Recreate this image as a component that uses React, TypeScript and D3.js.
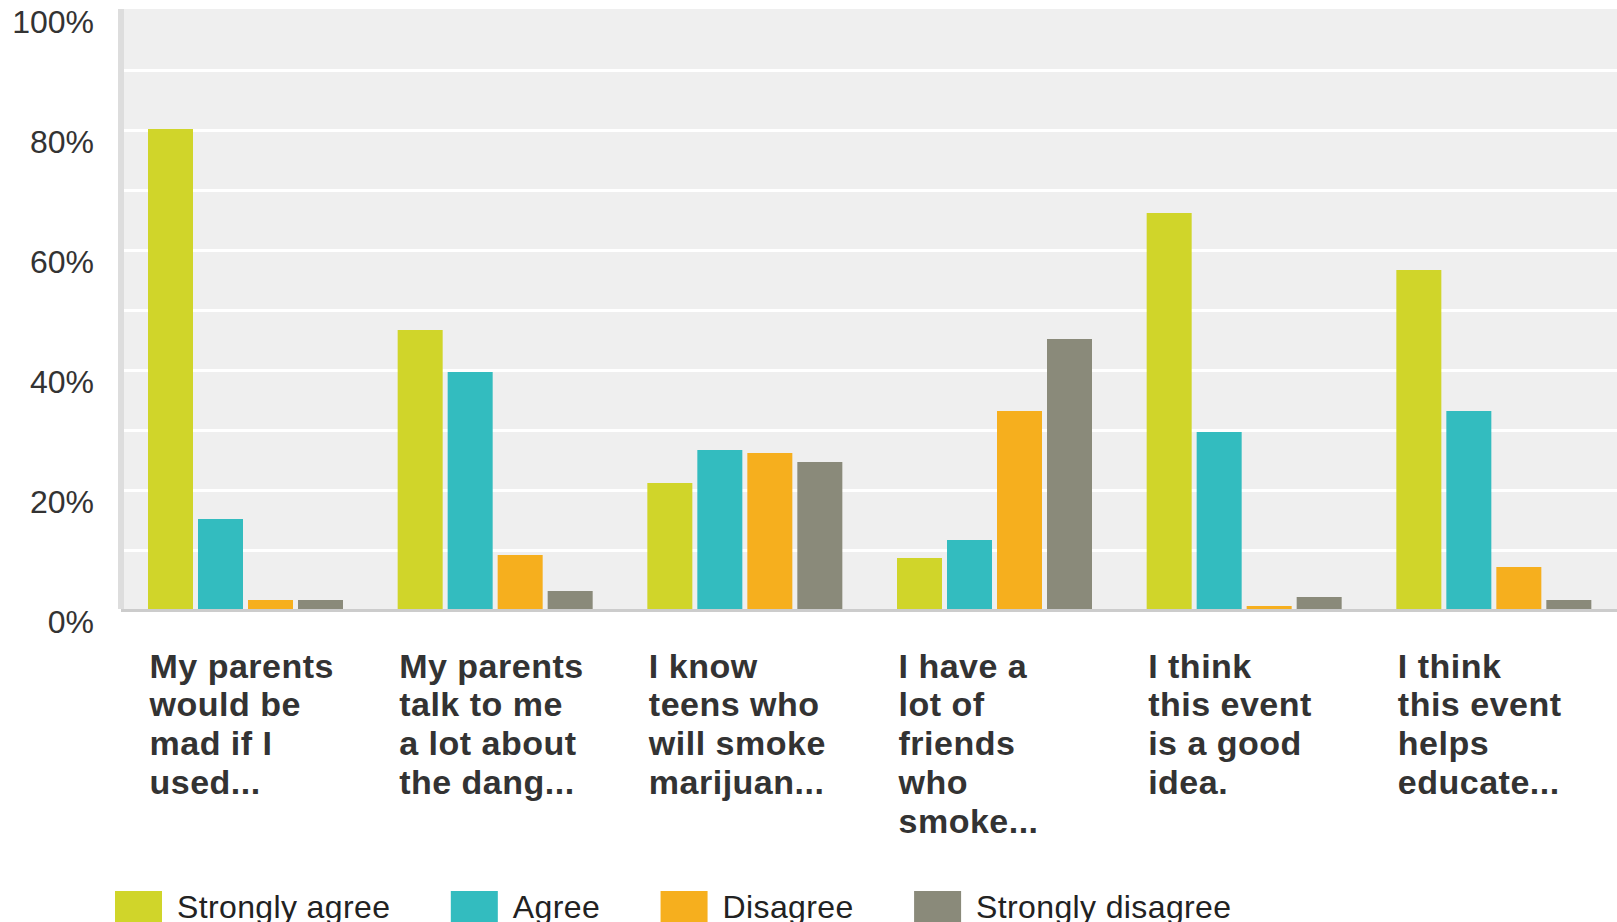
import React, { useEffect, useRef } from "react";
import * as d3 from "d3";

const categoryLines: string[][] = [
  ["My parents", "would be", "mad if I", "used..."],
  ["My parents", "talk to me", "a lot about", "the dang..."],
  ["I know", "teens who", "will smoke", "marijuan..."],
  ["I have a", "lot of", "friends", "who", "smoke..."],
  ["I think", "this event", "is a good", "idea."],
  ["I think", "this event", "helps", "educate..."],
];
const seriesNames = ["Strongly agree", "Agree", "Disagree", "Strongly disagree"];
const stronglyAgree = [80, 46.5, 21, 8.5, 66, 56.5];
const agree = [15, 39.5, 26.5, 11.5, 29.5, 33];
const disagree = [1.5, 9, 26, 33, 0.5, 7];
const stronglyDisagree = [1.5, 3, 24.5, 45, 2, 1.5];
const seriesValues = [stronglyAgree, agree, disagree, stronglyDisagree];
const seriesColors = ["#D0D52A", "#33BCBF", "#F6AF1E", "#8A8A7A"];
const yTicks = [0, 20, 40, 60, 80, 100];
const yGrid = [10, 20, 30, 40, 50, 60, 70, 80, 90];

const W = 1617;
const H = 922;

export default function App() {
  const ref = useRef<SVGSVGElement | null>(null);

  useEffect(() => {
    document.body.style.margin = "0";
    document.body.style.overflow = "hidden";
    const svg = d3.select(ref.current);
    svg.selectAll("*").remove();

    const font = "'Liberation Sans', Arial, sans-serif";
    const plotLeft = 124;
    const plotTop = 9;
    const plotBottom = 609;

    const y = d3.scaleLinear().domain([0, 100]).range([plotBottom, plotTop]);
    const cats = categoryLines.map((l) => l.join(" "));
    const x0 = d3.scaleBand<string>().domain(cats).range([123, 1621]).padding(0);
    const x1 = d3.scaleBand<string>().domain(seriesNames).range([25, 220]).paddingInner(0.1).paddingOuter(0);

    // background
    svg.append("rect").attr("x", plotLeft).attr("y", plotTop).attr("width", W - plotLeft).attr("height", plotBottom - plotTop).attr("fill", "#EFEFEF");
    // gridlines
    svg.append("g").selectAll("rect").data(yGrid).join("rect")
      .attr("x", plotLeft).attr("y", (d) => y(d)).attr("width", W - plotLeft).attr("height", 3).attr("fill", "#FFFFFF");
    // left border
    svg.append("rect").attr("x", 118).attr("y", plotTop).attr("width", 6).attr("height", plotBottom - plotTop).attr("fill", "#DDDDDD");

    // bars
    const g = svg.append("g");
    cats.forEach((c, ci) => {
      seriesNames.forEach((s, si) => {
        const v = seriesValues[si][ci];
        g.append("rect")
          .attr("x", (x0(c) as number) + (x1(s) as number))
          .attr("y", y(v))
          .attr("width", x1.bandwidth())
          .attr("height", plotBottom - y(v))
          .attr("fill", seriesColors[si]);
      });
    });

    // bottom axis line
    svg.append("rect").attr("x", 121).attr("y", plotBottom).attr("width", W - 121).attr("height", 3).attr("fill", "#CCCCCC");

    // y labels
    svg.append("g").selectAll("text").data(yTicks).join("text")
      .attr("x", 94).attr("y", (d) => y(d) + 24)
      .attr("text-anchor", "end")
      .attr("font-family", font).attr("font-size", 32).attr("fill", "#333333")
      .text((d) => `${d}%`);

    // category labels
    cats.forEach((c, ci) => {
      const t = svg.append("text")
        .attr("font-family", font).attr("font-size", 34).attr("font-weight", "bold")
        .attr("letter-spacing", 0.5).attr("fill", "#333333");
      categoryLines[ci].forEach((line, li) => {
        t.append("tspan").attr("x", (x0(c) as number) + 26.5).attr("y", 677.5 + li * 38.8).text(line);
      });
    });

    // legend
    const lg = svg.append("g");
    let lx = 115;
    seriesNames.forEach((s, si) => {
      lg.append("rect").attr("x", lx).attr("y", 891).attr("width", 47).attr("height", 47).attr("fill", seriesColors[si]);
      const txt = lg.append("text").attr("x", lx + 62).attr("y", 918)
        .attr("font-family", font).attr("font-size", 32).attr("letter-spacing", 0.37)
        .attr("fill", "#222222").text(s);
      const w = (txt.node() as SVGTextElement).getComputedTextLength();
      lx = lx + 62 + w + 60.5;
    });
  }, []);

  return <svg ref={ref} width={W} height={H} style={{ display: "block" }} />;
}
